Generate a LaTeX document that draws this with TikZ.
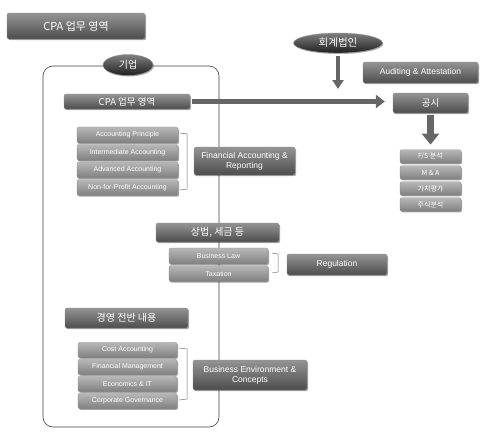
\documentclass[tikz,border=0pt]{standalone}
\usepackage{fontspec}
\setmainfont{Liberation Sans}
\newfontfamily\kr{Noto Sans CJK KR}
\usetikzlibrary{shapes.geometric,shadows,arrows.meta}
\tikzset{
  base/.style={rounded corners=2pt, draw=black!45, line width=0.3pt, text=white, align=center, inner sep=0pt,
    drop shadow={shadow xshift=1pt, shadow yshift=-1.2pt, opacity=0.35, fill=black}},
  bigbox/.style={base, top color=black!42, bottom color=black!70},
  smallbox/.style={base, top color=black!28, bottom color=black!50, font=\fontsize{7}{8}\selectfont},
  oval/.style={ellipse, inner sep=0pt, draw=black!40, line width=0.4pt, text=white, top color=black!50, bottom color=black!88,
    drop shadow={shadow xshift=0.8pt, shadow yshift=-1pt, opacity=0.3, fill=black}},
  bigarrow/.style={draw=black!60, line width=5pt, -{Triangle[width=13pt,length=9pt]}},
  brk/.style={draw=black!55, line width=0.5pt},
}
\begin{document}
\begin{tikzpicture}[x=1pt,y=-1pt]
\useasboundingbox (0,0) rectangle (485,442);
\fill[white] (0,0) rectangle (485,442);
% frame
\draw[black!75, line width=0.6pt, rounded corners=10pt] (43,66) rectangle (219,427);
% title
\node[bigbox, minimum width=138pt, minimum height=26pt, font=\kr\fontsize{11}{12}\selectfont] (title) at (76,26) {CPA 업무 영역};
\node[oval, minimum width=50pt, minimum height=21pt, font=\kr\fontsize{10}{11}\selectfont] (giup) at (128,65) {기업};
\node[bigbox, minimum width=126pt, minimum height=15pt, font=\kr\fontsize{9.5}{10}\selectfont] (cpa) at (127,101.5) {CPA 업무 영역};
% right side
\node[oval, minimum width=89pt, minimum height=20pt, font=\kr\fontsize{10.5}{11}\selectfont] (firm) at (338,43) {회계법인};
\coordinate (firmend) at (338,89);
\node[bigbox, minimum width=115pt, minimum height=21pt, font=\fontsize{8.5}{9}\selectfont] (audit) at (420.5,72.5) {Auditing \& Attestation};
\node[bigbox, minimum width=75pt, minimum height=20pt, font=\kr\fontsize{9.5}{10}\selectfont] (gongsi) at (430.5,103) {공시};
\node[smallbox, minimum width=61pt, minimum height=13.5pt, font=\kr\fontsize{7}{7}\selectfont] (fs) at (430.5,156.5) {F/S 분석};
\node[smallbox, minimum width=61pt, minimum height=13.5pt, font=\kr\fontsize{7}{7}\selectfont] (ma) at (430.5,172.5) {M \& A};
\node[smallbox, minimum width=61pt, minimum height=13.5pt, font=\kr\fontsize{7}{7}\selectfont] (val) at (430.5,188.5) {가치평가};
\node[smallbox, minimum width=61pt, minimum height=13.5pt, font=\kr\fontsize{7}{7}\selectfont] (stock) at (430.5,204.5) {주식분석};
\draw[bigarrow, shorten <=2pt, shorten >=8pt] (cpa.east) -- (gongsi.west |- cpa.east);
\draw[draw=black!60, line width=4pt, -{Triangle[width=11pt,length=9pt]}, shorten <=3pt] (firm.south) -- (firmend);
\draw[draw=black!60, line width=7pt, -{Triangle[width=17pt,length=11pt]}, shorten <=2pt, shorten >=5pt] (gongsi.south) -- (fs.north);
% group 1
\node[smallbox, minimum width=101pt, minimum height=16pt] (ap) at (127.5,135) {Accounting Principle};
\node[smallbox, minimum width=101pt, minimum height=16pt] (ia) at (127.5,152.5) {Intermediate Accounting};
\node[smallbox, minimum width=101pt, minimum height=16pt] (aa) at (127.5,170) {Advanced Accounting};
\node[smallbox, minimum width=101pt, minimum height=16pt] (np) at (127.5,187.5) {Non-for-Profit Accounting};
\draw[brk] (180,133) -- (187,134) -- (187,189) -- (180,190);
\node[bigbox, minimum width=101pt, minimum height=28pt, font=\fontsize{8.5}{10}\selectfont] (far) at (244.5,161) {Financial Accounting \&\\Reporting};
% group 2
\node[bigbox, minimum width=123pt, minimum height=19pt, font=\kr\fontsize{10}{11}\selectfont] (law) at (217.5,232.5) {상법, 세금 등};
\node[smallbox, minimum width=99pt, minimum height=16pt] (bl) at (218.5,256) {Business Law};
\node[smallbox, minimum width=99pt, minimum height=16pt] (tax) at (218.5,273.5) {Taxation};
\draw[brk] (272,253) -- (278,254) -- (278,272) -- (272,273);
\node[bigbox, minimum width=100pt, minimum height=21pt, font=\fontsize{8.5}{9}\selectfont] (reg) at (337,264.5) {Regulation};
% group 3
\node[bigbox, minimum width=123pt, minimum height=20pt, font=\kr\fontsize{10}{11}\selectfont] (mgmt) at (126.5,318) {경영 전반 내용};
\node[smallbox, minimum width=99pt, minimum height=15.5pt] (ca) at (127.5,350) {Cost Accounting};
\node[smallbox, minimum width=99pt, minimum height=15.5pt] (fm) at (127.5,367) {Financial Management};
\node[smallbox, minimum width=99pt, minimum height=15.5pt] (eit) at (127.5,384) {Economics \& IT};
\node[smallbox, minimum width=99pt, minimum height=15.5pt] (cg) at (127.5,401) {Corporate Governance};
\draw[brk] (179,348) -- (187,349) -- (187,399) -- (179,400);
\node[bigbox, minimum width=114pt, minimum height=30pt, font=\fontsize{8.5}{10}\selectfont] (bec) at (250,375) {Business Environment \&\\Concepts};
\end{tikzpicture}
\end{document}
